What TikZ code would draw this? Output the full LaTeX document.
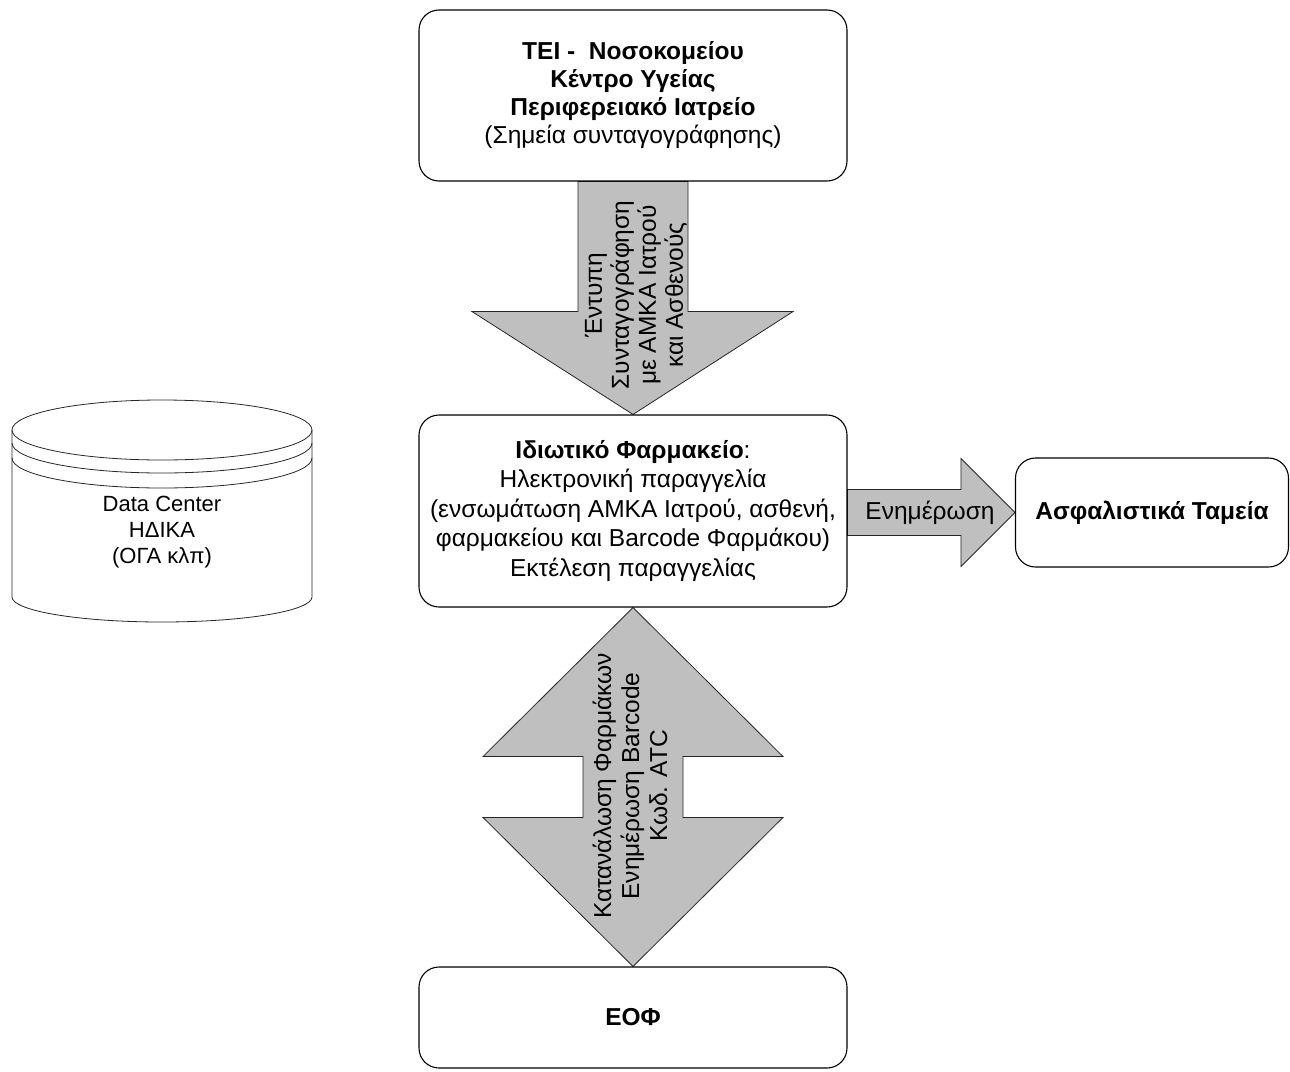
\documentclass[tikz,border=0pt]{standalone}
\usepackage{fontspec}
\setmainfont{Liberation Sans}
\usetikzlibrary{calc,backgrounds}

\tikzset{
  box/.style={draw=black, line width=1.1pt, rounded corners=20pt, align=center,
    inner sep=0pt, font=\fontsize{24.5}{28}\selectfont},
  blockarrow/.style={draw=black!85, fill=gray!50, line width=0.8pt},
  arrowlabel/.style={align=center, inner sep=0pt, font=\fontsize{24.5}{28}\selectfont},
  drum/.style={draw=black!85, line width=0.8pt}
}

\begin{document}
\begin{tikzpicture}[x=1pt,y=-1pt]
\useasboundingbox (0,0) rectangle (1290,1071);

% boxes
\node[box, minimum width=428pt, minimum height=171pt] (tei) at (633,95.5)
  {\textbf{ΤΕΙ -\ \ Νοσοκομείου}\\\textbf{Κέντρο Υγείας}\\\textbf{Περιφερειακό Ιατρείο}\\(Σημεία συνταγογράφησης)};
\node[box, minimum width=428pt, minimum height=192pt, font=\fontsize{24.5}{29.5}\selectfont] (farm) at (633,511)
  {\textbf{Ιδιωτικό Φαρμακείο}:\\Ηλεκτρονική παραγγελία\\(ενσωμάτωση ΑΜΚΑ Ιατρού, ασθενή,\\φαρμακείου και Barcode Φαρμάκου)\\Εκτέλεση παραγγελίας};
\node[box, minimum width=273pt, minimum height=109pt] (tameia) at (1152,512.5)
  {\textbf{Ασφαλιστικά Ταμεία}};
\node[box, minimum width=428pt, minimum height=101pt] (eof) at (633,1017.5)
  {\textbf{ΕΟΦ}};

% data center drum
\draw[drum] (162,430) ellipse [x radius=150, y radius=30];
\draw[drum] (12,443) arc [start angle=180, end angle=0, x radius=150, y radius=30];
\draw[drum] (12,458) arc [start angle=180, end angle=0, x radius=150, y radius=30];
\draw[drum] (12,430) -- (12,597) arc [start angle=180, end angle=0, x radius=150, y radius=25] -- (312,430);
\node[arrowlabel, font=\fontsize{22}{26}\selectfont] (dc) at (162,532) {Data Center\\ΗΔΙΚΑ\\(ΟΓΑ κλπ)};

% block arrows
\begin{scope}[on background layer]
\draw[blockarrow] ($(tei.south)+(-55,0)$) -- ($(tei.south)+(-55,130)$) -- ($(tei.south)+(-161,130)$)
  -- (farm.north) -- ($(tei.south)+(160,130)$) -- ($(tei.south)+(55,130)$) -- ($(tei.south)+(55,0)$) -- cycle;
\path (farm.south) ++(0,149) coordinate (uphead);
\path (eof.north) ++(0,-149) coordinate (lowhead);
\draw[blockarrow] (farm.south) -- ($(uphead)+(150,0)$) -- ($(uphead)+(50,0)$) -- ($(lowhead)+(50,0)$)
  -- ($(lowhead)+(150,0)$) -- (eof.north) -- ($(lowhead)+(-150,0)$) -- ($(lowhead)+(-50,0)$)
  -- ($(uphead)+(-50,0)$) -- ($(uphead)+(-150,0)$) -- cycle;
\draw[blockarrow] ($(farm.east |- tameia.west)+(0,-23)$) -- ($(tameia.west)+(-54,-23)$) -- ($(tameia.west)+(-54,-54)$)
  -- (tameia.west) -- ($(tameia.west)+(-54,54)$) -- ($(tameia.west)+(-54,23)$) -- ($(farm.east |- tameia.west)+(0,23)$) -- cycle;
\end{scope}

% arrow labels
\node[arrowlabel, rotate=90, font=\fontsize{24.5}{27}\selectfont] (syntagi) at (636,295) {Έντυπη\\Συνταγογράφηση\\με ΑΜΚΑ Ιατρού\\και Ασθενούς};
\node[arrowlabel, rotate=90] (katanalosi) at (630,786) {Κατανάλωση Φαρμάκων\\Ενημέρωση Barcode\\Κωδ. ATC};
\node[arrowlabel] (enimerosi) at (930,513) {Ενημέρωση};
\end{tikzpicture}
\end{document}
